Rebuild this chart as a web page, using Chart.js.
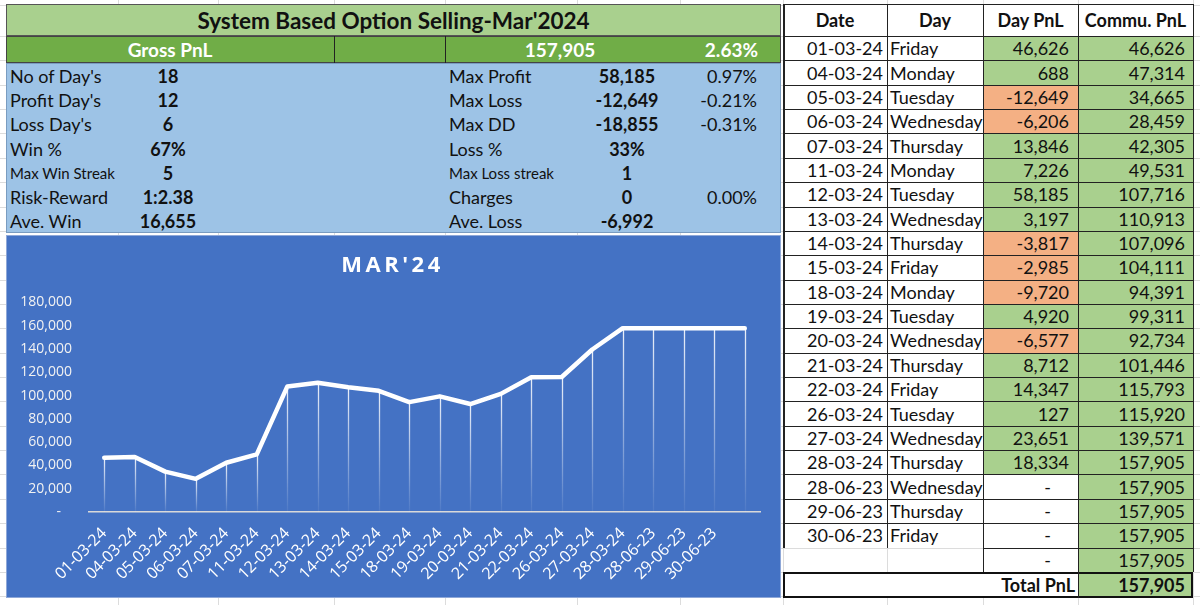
<!DOCTYPE html>
<html><head><meta charset="utf-8">
<script src="https://cdn.jsdelivr.net/npm/chart.js@4.4.1/dist/chart.umd.min.js"></script>
<style>
html,body{margin:0;padding:0;background:#fff;width:1200px;height:605px;overflow:hidden;font-family:Lato,"Open Sans",sans-serif;}
.a{position:absolute;box-sizing:border-box;white-space:nowrap;}
.t{position:absolute;box-sizing:border-box;white-space:nowrap;display:flex;align-items:center;color:#111;}
</style></head>
<body>
<div id="root"></div>
<script>
// ---------- DATA ----------
const dates = ["01-03-24","04-03-24","05-03-24","06-03-24","07-03-24","11-03-24","12-03-24","13-03-24","14-03-24","15-03-24","18-03-24","19-03-24","20-03-24","21-03-24","22-03-24","26-03-24","27-03-24","28-03-24","28-06-23","29-06-23","30-06-23",""];
const days = ["Friday","Monday","Tuesday","Wednesday","Thursday","Monday","Tuesday","Wednesday","Thursday","Friday","Monday","Tuesday","Wednesday","Thursday","Friday","Tuesday","Wednesday","Thursday","Wednesday","Thursday","Friday",""];
const dayPnl = [46626,688,-12649,-6206,13846,7226,58185,3197,-3817,-2985,-9720,4920,-6577,8712,14347,127,23651,18334,null,null,null,null];
const cumPnl = [46626,47314,34665,28459,42305,49531,107716,110913,107096,104111,94391,99311,92734,101446,115793,115920,139571,157905,157905,157905,157905,157905];
const totalPnl = 157905;
const chartTitle = "MAR'24";
const yTicksMax = 180000;
const yTickStep = 20000;
const leftStats = [["No of Day's","18"],["Profit Day's","12"],["Loss Day's","6"],["Win %","67%"],["Max Win Streak","5"],["Risk-Reward","1:2.38"],["Ave. Win","16,655"]];
const rightStats = [["Max Profit","58,185","0.97%"],["Max Loss","-12,649","-0.21%"],["Max DD","-18,855","-0.31%"],["Loss %","33%",""],["Max Loss streak","1",""],["Charges","0","0.00%"],["Ave. Loss","-6,992",""]];
const headerTitle = "System Based Option Selling-Mar'2024";
const grossLabel = "Gross PnL", grossValue = "157,905", grossPct = "2.63%";
const tableHeads = ["Date","Day","Day PnL","Commu. PnL"];

// ---------- LAYOUT ----------
const root = document.getElementById('root');
function box(x,y,w,h,css){const d=document.createElement('div');d.className='a';d.style.cssText=`left:${x}px;top:${y}px;width:${w}px;height:${h}px;`+(css||'');root.appendChild(d);return d;}
function txt(x,y,w,h,text,css){const d=document.createElement('div');d.className='t';d.style.cssText=`left:${x}px;top:${y}px;width:${w}px;height:${h}px;`+(css||'');d.textContent=text;root.appendChild(d);return d;}
const fmt=v=>v.toLocaleString('en-US');

// background gridlines
const gcols=[118,218,334,445,577,680,783,887,983,1078,1193];
gcols.forEach(x=>box(x,0,1,605,'background:#dcdcdc;'));
for(let i=0;i<25;i++){box(0,5+ (i===0?0:31+(i-1)*24.36),1200,1,'background:#dcdcdc;');}

// left header
box(6,4,775,32,'background:#A9D08E;border:1px solid #555;');
txt(6,4,775,32,headerTitle,'justify-content:center;font-weight:bold;font-size:22.5px;');
box(6,36,775,27,'background:#70AD47;border:1px solid #444;');
box(334,36,1,27,'background:#222;');box(445,36,1,27,'background:#222;');
txt(6,36,328,27,grossLabel,'justify-content:center;font-weight:bold;font-size:19px;color:#fff;');
txt(460,36,200,27,grossValue,'justify-content:center;font-weight:bold;font-size:19px;color:#fff;');
txt(650,36,108,27,grossPct,'justify-content:flex-end;font-weight:bold;font-size:19px;color:#fff;');
box(6,63,775,170,'background:#9DC3E6;border:1px solid #7a9cc0;');
leftStats.forEach((r,i)=>{const y=64+i*24.2;const small=r[0].includes('Streak');
 txt(10,y,150,24,r[0],`font-size:${small?15:18}px;`);
 txt(120,y,96,24,r[1],'justify-content:center;font-weight:bold;font-size:18px;');});
rightStats.forEach((r,i)=>{const y=64+i*24.2;const small=r[0].includes('streak');
 txt(449,y,150,24,r[0],`font-size:${small?15:18}px;`);
 txt(575,y,104,24,r[1],'justify-content:center;font-weight:bold;font-size:18px;');
 txt(660,y,97,24,r[2],'justify-content:flex-end;font-size:18px;');});

// chart container
box(6,235,775,363,'background:#4472C4;border:1px solid #8fa8d8;');
const cw=box(7,236,773,361,'');
const cv=document.createElement('canvas');cv.width=773;cv.height=361;cv.style.cssText='width:773px;height:361px;display:block;';cw.appendChild(cv);

// right table
const cx=[783,887,983,1078,1193];
box(783,4,410,32,'background:#fff;');
tableHeads.forEach((h,j)=>txt(cx[j],4,cx[j+1]-cx[j],32,h,'justify-content:center;font-weight:bold;font-size:18px;'));
const rh=24.36;
for(let i=0;i<dates.length;i++){
 const y=36+i*rh;
 const blank=dates[i]==="";
 if(!blank){
  txt(cx[0],y,cx[1]-cx[0]-4,rh,dates[i],'justify-content:flex-end;font-size:18px;');
  txt(cx[1]+3,y,cx[2]-cx[1],rh,days[i],'font-size:18px;');
 }
 const v=dayPnl[i];
 const bg=v===null?'#fff':(v<0?'#F4B084':'#A9D08E');
 box(cx[2],y,cx[3]-cx[2],rh,`background:${bg};`);
 txt(cx[2],y,cx[3]-cx[2]-9,rh,v===null?'-':fmt(v),'justify-content:flex-end;font-size:18px;'+(v===null?'padding-right:18px;':''));
 box(cx[3],y,cx[4]-cx[3],rh,'background:#A9D08E;');
 txt(cx[3],y,cx[4]-cx[3]-8,rh,fmt(cumPnl[i]),'justify-content:flex-end;font-size:18px;');
}
// table borders
const nRows=dates.length;
for(let i=0;i<=nRows;i++){const y=Math.round(36+i*rh);
 const blank = i===nRows || dates[i]==="";
 box(blank?cx[2]:cx[0],y,blank?cx[4]-cx[2]:cx[4]-cx[0],1,'background:#222;');}
box(783,4,410,1,'background:#222;');
cx.forEach((x,j)=>{const hEnd=(j<2)?36+(nRows-1)*rh:36+nRows*rh; box(x,4,j===0?2:1,hEnd-4,'background:#222;');});
// total row
box(783,572,410,26,'border:2px solid #111;background:#fff;');
box(cx[3],574,cx[4]-cx[3]-2,22,'background:#A9D08E;');
box(cx[3],572,1,26,'background:#222;');
txt(783,572,cx[3]-783-3,26,'Total PnL','justify-content:flex-end;font-weight:bold;font-size:18px;');
txt(cx[3],572,cx[4]-cx[3]-8,26,fmt(totalPnl),'justify-content:flex-end;font-weight:bold;font-size:18px;');

// ---------- CHART ----------
const dropLines={id:'dropLines',beforeDatasetsDraw(chart){
 const {ctx,scales:{y}}=chart;const meta=chart.getDatasetMeta(0);const base=y.getPixelForValue(0);
 ctx.save();
 meta.data.forEach(pt=>{const g=ctx.createLinearGradient(0,pt.y,0,base);
  g.addColorStop(0,'rgba(255,255,255,0.9)');g.addColorStop(1,'rgba(255,255,255,0.05)');
  ctx.strokeStyle=g;ctx.lineWidth=1.3;ctx.beginPath();ctx.moveTo(Math.round(pt.x)+0.5,pt.y);ctx.lineTo(Math.round(pt.x)+0.5,base);ctx.stroke();});
 ctx.restore();}};
const titleSpacing={id:'titleSpacing',beforeDraw(chart){
 const tb=chart.titleBlock;
 if(tb&&!tb._spaced){const o=tb.draw;tb.draw=function(){const c=this.ctx;c.save();c.letterSpacing='3.5px';c.translate(9,0);o.apply(this,arguments);c.restore();};tb._spaced=true;}}};
new Chart(cv,{type:'line',
 data:{labels:dates,datasets:[{data:cumPnl,borderColor:'#ffffff',borderWidth:4.5,pointRadius:0,tension:0,fill:false,borderCapStyle:'round',borderJoinStyle:'round'}]},
 options:{responsive:false,animation:false,devicePixelRatio:1,
  layout:{padding:{left:0,right:20,top:0,bottom:0}},
  plugins:{legend:{display:false},tooltip:{enabled:false},
   title:{display:true,text:chartTitle,color:'#ffffff',font:{family:'"Open Sans"',size:22,weight:'bold'},padding:{top:17,bottom:23}}},
  scales:{
   x:{offset:true,grid:{display:false,drawTicks:false,offset:true},border:{display:true,color:'#d9d9d9',width:1.5},
      ticks:{color:'#ffffff',font:{family:'"Open Sans"',size:16},minRotation:45,maxRotation:45,autoSkip:false,padding:12},
      afterFit(s){s.height=85;}},
   y:{min:0,max:yTicksMax,grid:{display:false,drawTicks:false},border:{display:false},
      ticks:{stepSize:yTickStep,color:'#f2f2f2',padding:17,font:{family:'"Open Sans"',size:14},callback:v=>v===0?'-   ':fmt(v)},
      afterFit(s){s.width=82;}}
  }},
 plugins:[dropLines,titleSpacing]});
</script>
</body></html>
